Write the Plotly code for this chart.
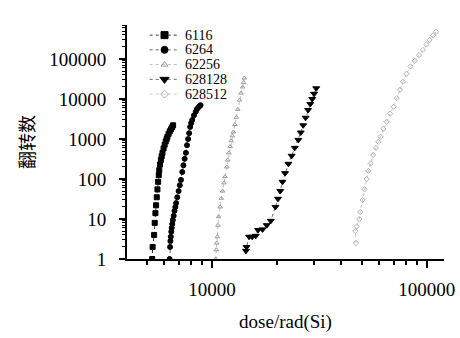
import plotly.graph_objects as go

names = ["6116", "6264", "62256", "628128", "628512"]

x_6116 = [5275, 5300, 5385, 5420, 5460, 5500, 5540, 5580, 5620, 5660, 5690, 5740, 5790, 5840, 5890, 5960, 6030, 6100, 6160, 6210, 6290, 6370, 6450, 6530, 6600]
y_6116 = [1, 2, 4, 8, 14, 22, 35, 55, 85, 125, 166, 230, 300, 370, 450, 580, 720, 870, 1000, 1140, 1350, 1560, 1760, 1960, 2200]

x_6264 = [6360, 6390, 6410, 6440, 6470, 6500, 6540, 6580, 6640, 6700, 6760, 6815, 6900, 7000, 7090, 7180, 7280, 7370, 7470, 7570, 7660, 7750, 7840, 7920, 8010, 8100, 8250, 8410, 8530, 8650, 8760, 8860]
y_6264 = [1, 2, 2.8, 3.6, 4.8, 6, 7.5, 9.4, 12, 16, 20, 25, 35, 50, 70, 95, 150, 220, 320, 450, 700, 1000, 1400, 2000, 2500, 3000, 3900, 4800, 5600, 6200, 6600, 7000]

x_62256 = [10420, 10480, 10530, 10600, 10680, 10740, 10930, 11050, 11200, 11380, 11520, 11720, 11850, 12000, 12150, 12300, 12450, 12580, 12800, 13000, 13200, 13420, 13650, 13900, 14030, 14150]
y_62256 = [1, 1.7, 2.5, 3.6, 7, 11.4, 20, 33, 50, 80, 115, 200, 300, 450, 650, 900, 1200, 1500, 2300, 3500, 5500, 9400, 14000, 20000, 26000, 33500]

x_628128 = [14400, 14500, 14900, 15400, 16000, 16400, 17200, 18000, 18800, 19750, 20300, 20800, 21300, 21900, 22700, 23500, 24300, 25250, 25900, 26600, 27300, 28030, 28700, 29300, 29900, 30580]
y_628128 = [1.6, 2, 3.6, 3.6, 3.8, 5.3, 5.5, 7, 9, 20, 32, 50, 85, 140, 240, 380, 600, 950, 1450, 2200, 3400, 5300, 7500, 10000, 13500, 18500]

x_628512 = [46800, 46500, 47200, 48500, 49000, 50270, 51300, 52500, 53500, 54800, 56300, 58000, 59500, 60900, 62800, 65000, 67500, 70100, 72500, 75000, 77500, 80500, 84000, 88000, 92000, 96000, 99500, 103000, 107000, 110400]
y_628512 = [2.5, 5, 6.5, 10, 15, 30, 55, 100, 160, 245, 400, 600, 850, 1140, 1800, 2700, 4300, 6400, 10500, 17000, 27000, 43000, 65000, 90000, 125000, 168000, 230000, 300000, 390000, 480000]

xs = [x_6116, x_6264, x_62256, x_628128, x_628512]
ys = [y_6116, y_6264, y_62256, y_628128, y_628512]
symbols = ["square", "circle", "triangle-up-open", "triangle-down", "diamond-open"]
colors = ["black", "black", "#9a9a9a", "black", "#b0b0b0"]
sizes = [5, 5, 4, 6, 4]
line_colors = ["black", "#444444", "#aaaaaa", "#444444", "#bbbbbb"]

# legend layout (pixel frame of overlay axes)
leg_y = [16, 32, 48, 64, 80]
leg_x0, leg_x1, leg_text_x = 150, 180, 185

fig = go.Figure()
for n, x, y, s, c, sz, lc in zip(names, xs, ys, symbols, colors, sizes, line_colors):
    fig.add_trace(go.Scatter(
        x=x, y=y, name=n, mode="lines+markers", showlegend=False,
        line=dict(color=lc, width=0.8, dash="dot"),
        marker=dict(symbol=s, size=sz, color=c, line=dict(color=c, width=1)),
    ))

font_serif = "Times New Roman"
annotations = []
for n, s, c, sz, lc, ly in zip(names, symbols, colors, sizes, line_colors, leg_y):
    fig.add_trace(go.Scatter(
        x=[leg_x0, leg_x1], y=[ly, ly], mode="lines", showlegend=False,
        line=dict(color=lc, width=0.8, dash="dot"), xaxis="x2", yaxis="y2", hoverinfo="skip"))
    fig.add_trace(go.Scatter(
        x=[(leg_x0 + leg_x1) / 2], y=[ly], mode="markers", showlegend=False,
        marker=dict(symbol=s, size=sz + 2, color=c, line=dict(color=c, width=1)),
        xaxis="x2", yaxis="y2", hoverinfo="skip"))
    annotations.append(dict(x=leg_text_x, y=ly, xref="x2", yref="y2", text=n, showarrow=False,
                            xanchor="left", yanchor="middle", borderpad=0,
                            font=dict(family=font_serif, size=14, color="black")))

fig.update_layout(
    width=460, height=338,
    margin=dict(l=127, r=12, t=5, b=79),
    paper_bgcolor="white", plot_bgcolor="white",
    font=dict(family=font_serif, size=19, color="black"),
    showlegend=False,
    annotations=annotations,
    xaxis=dict(type="log", range=[3.605, 5.08], showgrid=False, zeroline=False,
               showline=True, linecolor="black", linewidth=2,
               ticks="outside", ticklen=7, tickwidth=2, tickcolor="black",
               tickvals=[10000, 100000], ticktext=["10000", "100000"],
               minor=dict(ticks="outside", ticklen=4, tickcolor="black", tickwidth=1.5,
                          tickvals=[5000, 6000, 7000, 8000, 9000, 20000, 30000, 40000, 50000, 60000, 70000, 80000, 90000]),
               title=dict(text="dose/rad(Si)", font=dict(size=19, family=font_serif), standoff=16),
               tickfont=dict(family=font_serif, size=19),
               ticklabelstandoff=5),
    yaxis=dict(type="log", range=[0, 5.85], domain=[0, 234 / 254], showgrid=False, zeroline=False,
               showline=True, linecolor="black", linewidth=2,
               ticks="outside", ticklen=6, tickwidth=2, tickcolor="black",
               tickvals=[1, 10, 100, 1000, 10000, 100000],
               ticktext=["1", "10", "100", "1000", "10000", "100000"],
               minor=dict(ticks="outside", ticklen=3, tickcolor="black", tickwidth=1,
                          dtick="D1"),
               tickfont=dict(family=font_serif, size=19),
               title=dict(text="翻转数", font=dict(size=18, family="Noto Sans CJK SC"), standoff=10),
               ticklabelstandoff=9),
    xaxis2=dict(range=[127, 448], overlaying="x", visible=False, anchor="y2"),
    yaxis2=dict(range=[259, 5], domain=[0, 1], visible=False, anchor="x2", overlaying="y"),
)
fig.write_html("out.html")
